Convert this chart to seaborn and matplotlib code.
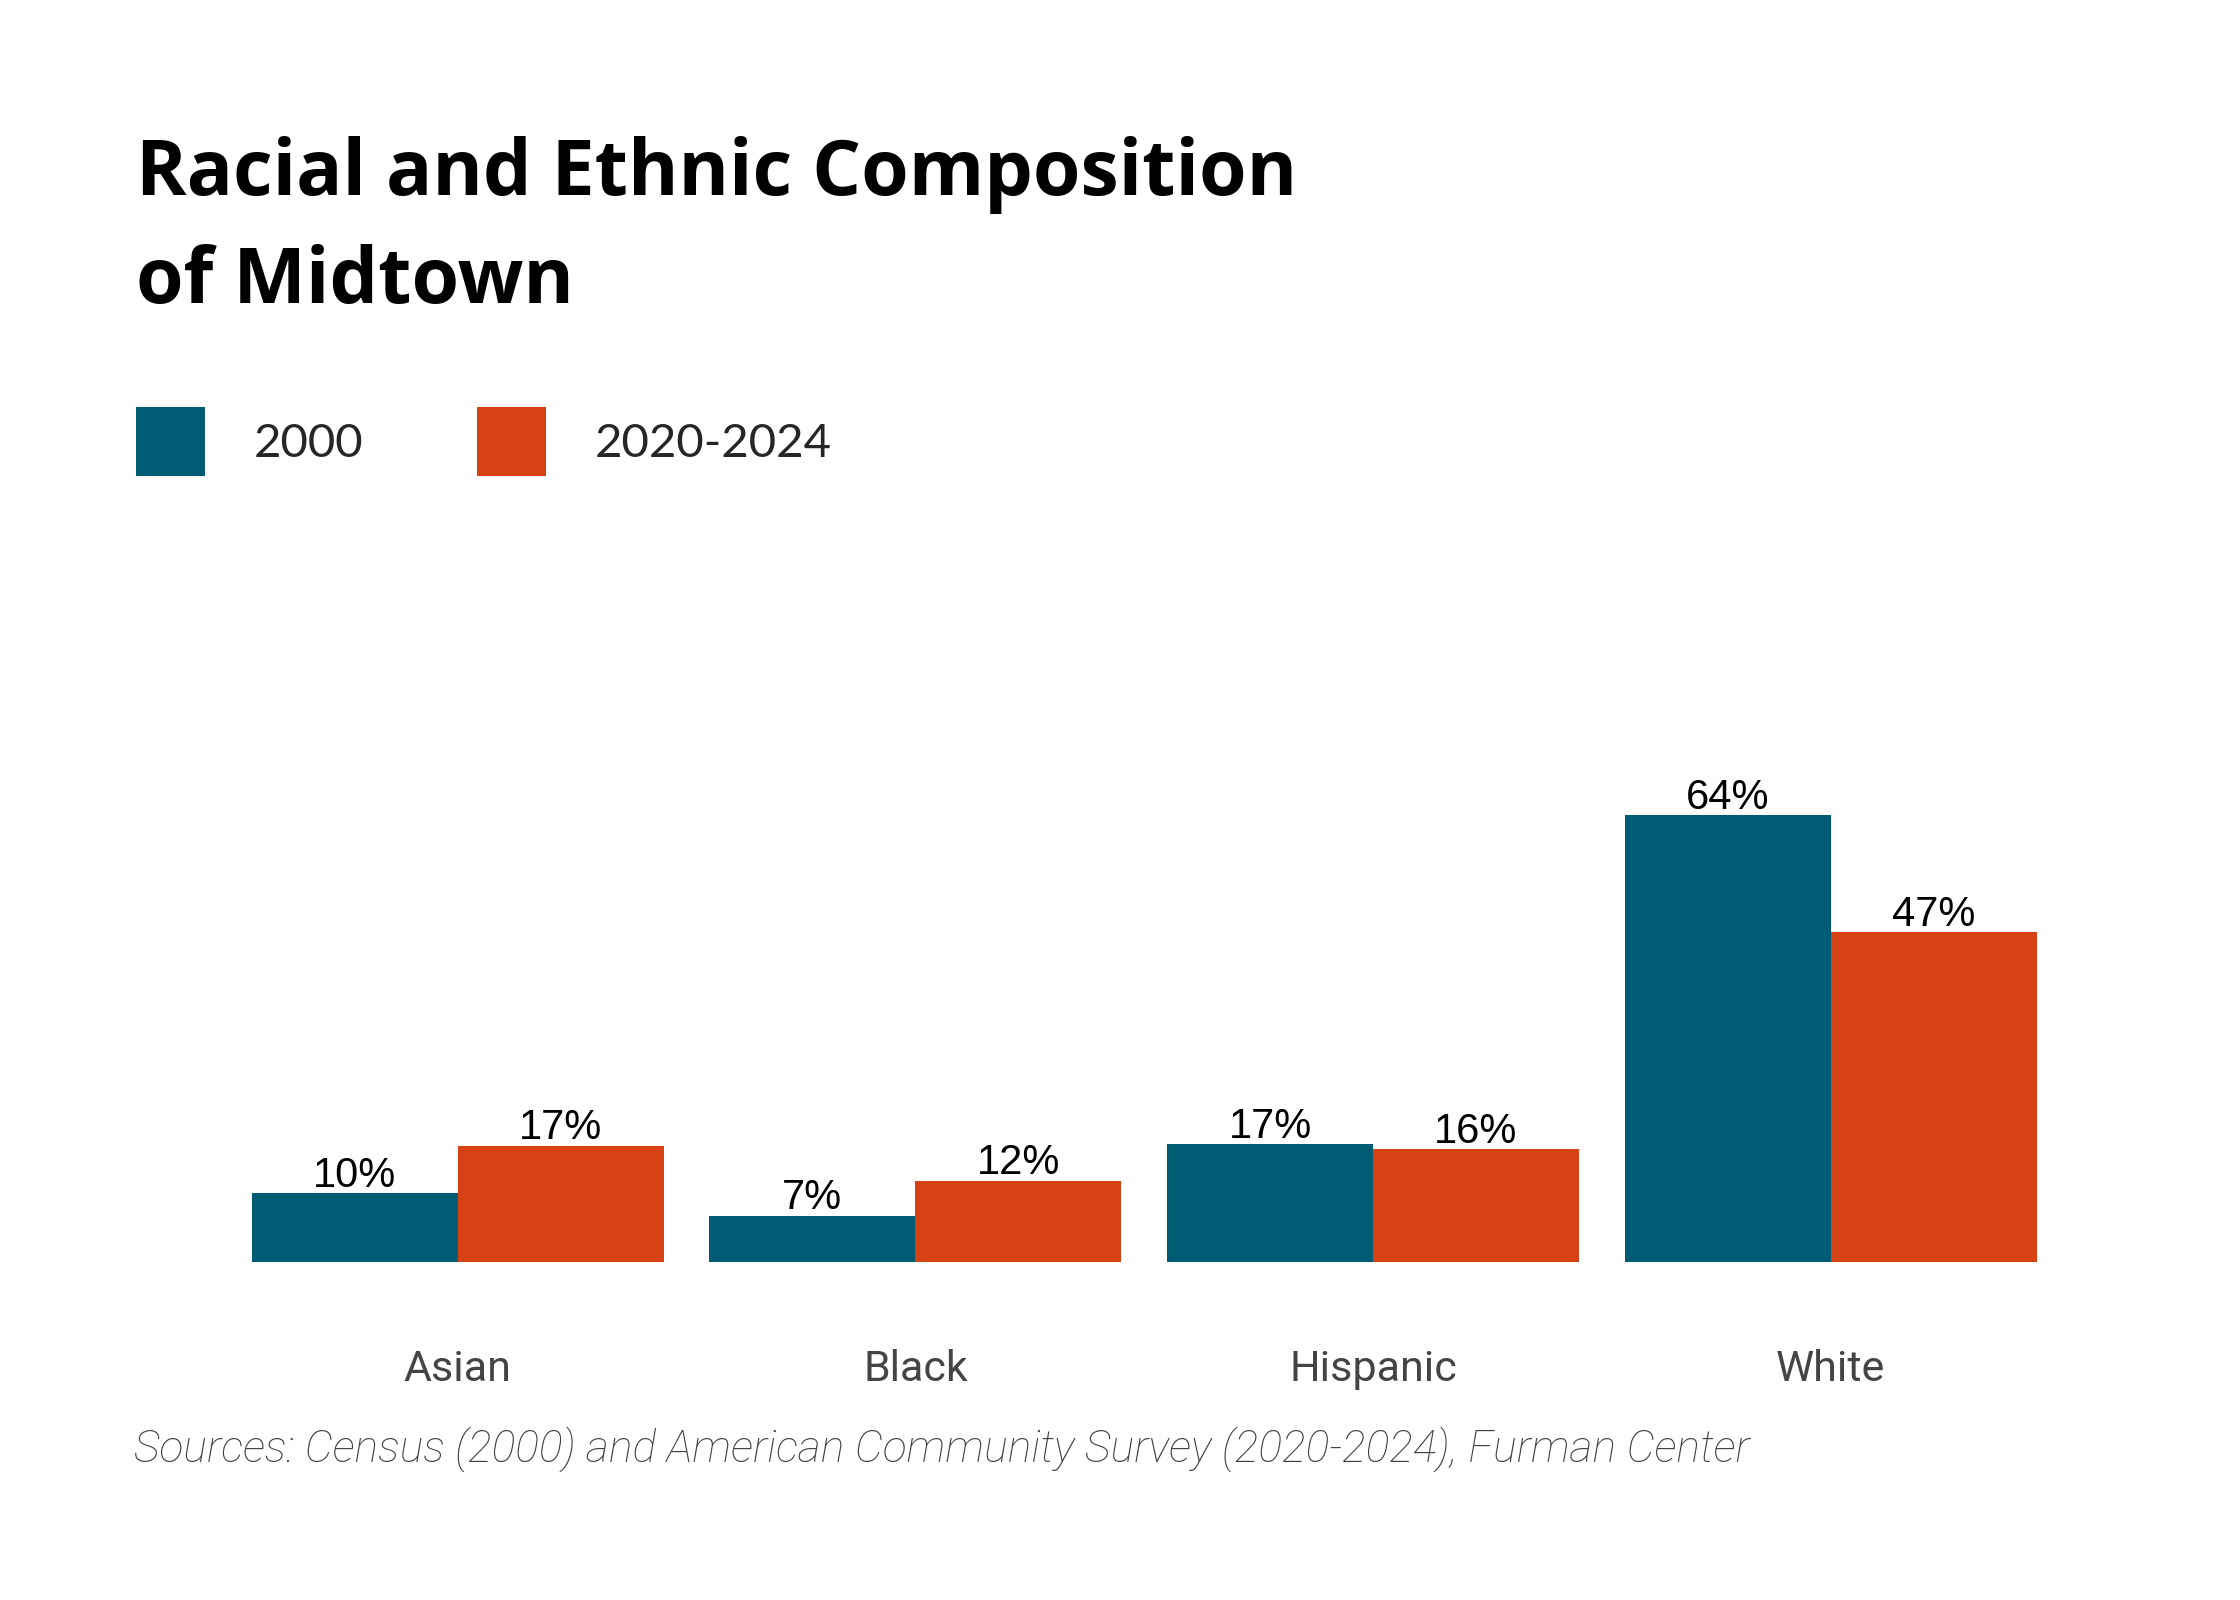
import matplotlib
matplotlib.use("Agg")
import matplotlib.pyplot as plt
import seaborn as sns
import pandas as pd

# values (percent of population)
categories = ["Asian", "Black", "Hispanic", "White"]
share_2000 = [9.8, 6.6, 16.8, 63.9]
share_2020 = [16.6, 11.6, 16.1, 47.2]
periods = ["2000", "2020-2024"]
colors = ["#005b74", "#d74214"]

title_lines = ["Racial and Ethnic Composition", "of Midtown"]
source = "Sources: Census (2000) and American Community Survey (2020-2024), Furman Center"

df = pd.DataFrame({
    "group": categories * 2,
    "share": share_2000 + share_2020,
    "period": [periods[0]] * 4 + [periods[1]] * 4,
})

sns.set_theme(style="white")
plt.rcParams["font.family"] = ["Liberation Sans", "DejaVu Sans"]

fig = plt.figure(figsize=(11.2, 8), dpi=200)
ax = fig.add_axes([0.1022, 0.2115, 0.8172, 0.3055])

sns.barplot(data=df, x="group", y="share", hue="period", order=categories,
            hue_order=periods, palette=colors, width=0.9, saturation=1,
            linewidth=0, ax=ax)

for cont in ax.containers:
    ax.bar_label(cont, fmt="{:.0f}%", padding=-1, fontsize=15,
                 color="black", family="Liberation Sans")

ax.set_xlim(-0.5, 3.5)
ax.set_ylim(0, 70)
ax.set_xlabel("")
ax.set_ylabel("")
ax.set_yticks([])
sns.despine(ax=ax, left=True, bottom=True)
ax.tick_params(axis="x", length=0, pad=31.5, labelsize=15.5, labelcolor="#444444")
for lab in ax.get_xticklabels():
    lab.set_family(["Roboto", "DejaVu Sans"])

sns.move_legend(ax, "upper left", bbox_to_anchor=(136 / 2240, 1 - 407 / 1600),
                bbox_transform=fig.transFigure, ncol=2, title=None, frameon=False,
                handlelength=1.46, handleheight=1.87,
                handletextpad=1.04, columnspacing=2.4, borderpad=0, borderaxespad=0,
                prop={"family": ["Lato", "DejaVu Sans"], "size": 17})

fig.text(136 / 2240, 1 - 195 / 1600, title_lines[0], fontsize=27.7, fontweight="bold",
         family=["Open Sans", "DejaVu Sans"], va="baseline", ha="left", color="black")
fig.text(136 / 2240, 1 - 303 / 1600, title_lines[1], fontsize=27.7, fontweight="bold",
         family=["Open Sans", "DejaVu Sans"], va="baseline", ha="left", color="black")
fig.text(134 / 2240, 1 - 1462 / 1600, source, fontsize=16, fontstyle="italic",
         fontweight="light", family=["Roboto", "DejaVu Sans"], va="baseline",
         ha="left", color="#404040")

fig.savefig("out.png", dpi=200, facecolor="white")
